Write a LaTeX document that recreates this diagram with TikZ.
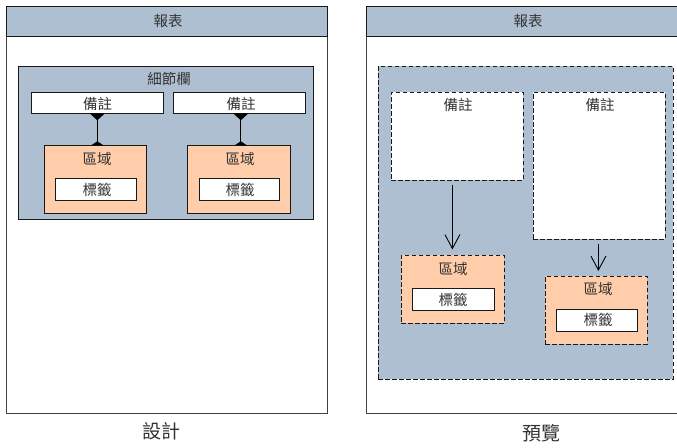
\documentclass[tikz,border=0pt]{standalone}
\usepackage{fontspec}
\setmainfont{Noto Sans CJK TC}
\usetikzlibrary{arrows.meta}
\definecolor{bandblue}{HTML}{AEBFD1}
\definecolor{areaorange}{HTML}{FFCDAA}
\definecolor{inkgrey}{HTML}{333333}
\tikzset{
  x=1pt,y=-1pt,
  box/.style={draw=black!90,line width=1.05pt,inner sep=0pt,outer sep=0pt,font=\fontsize{14.5}{16}\selectfont,text=inkgrey},
  words/.style={box,draw=none},
  frame/.style={box,draw=black!75,line width=1.3pt,fill=white,anchor=north west},
  band/.style={box,fill=bandblue,anchor=north west},
  whitebox/.style={box,fill=white,anchor=north west},
  areabox/.style={box,fill=areaorange,anchor=north west},
  dash line/.style={dash pattern=on 4.5pt off 2.5pt},
  link/.style={line width=1.2pt,{Triangle[reversed,width=15pt,length=7pt]}-{Triangle[reversed,width=12pt,length=4pt]}},
  flow/.style={line width=1pt,-{Straight Barb[length=14pt,width=15pt,line width=.9pt]}},
  caption/.style={font=\fontsize{19}{21}\selectfont,text=inkgrey,inner sep=0pt}
}
\newcommand{\pbox}[6]{% name, style, x1,y1,x2,y2
  \node[#2,minimum width=#5pt-#3pt,minimum height=#6pt-#4pt] (#1) at (#3+.3,#4+.3) {};}
\begin{document}
\begin{tikzpicture}
\useasboundingbox (0,0) rectangle (677,447);
\fill[white] (0,0) rectangle (677,447);
% ---- design
\pbox{repL}{frame}{6}{6}{327}{413}
\pbox{headL}{band}{6}{6}{327}{36}
\node[words] at (168,21) {報表};
\pbox{detail}{band}{18}{66}{313}{219}
\node[words] at (169,79) {細節欄};
\pbox{noteA}{whitebox}{31}{92}{163}{113}
\node[words] at (97.5,104) {備註};
\pbox{noteB}{whitebox}{173}{92}{305}{113}
\node[words] at (241,104) {備註};
\pbox{areaA}{areabox}{44}{145}{146}{213}
\node[words] at (97,159) {區域};
\pbox{labA}{whitebox}{55}{178}{136}{200}
\node[words] at (97,190) {標籤};
\pbox{areaB}{areabox}{187}{145}{290}{213}
\node[words] at (240,159) {區域};
\pbox{labB}{whitebox}{199}{178}{279}{200}
\node[words] at (240,190) {標籤};
\draw[link] (noteA.south) -- (noteA.south |- areaA.north);
\draw[link] ([xshift=1.5pt]noteB.south) -- ([xshift=1.5pt]noteB.south |- areaB.north);
% ---- preview
\pbox{repR}{frame}{366}{6}{677}{413}
\pbox{headR}{band}{366}{6}{677}{36}
\node[words] at (528,21) {報表};
\pbox{detailR}{band,dash line}{378}{66}{673}{379}
\pbox{noteC}{whitebox,dash line}{391}{92}{523}{180}
\node[words] at (458,105) {備註};
\pbox{noteD}{whitebox,dash line}{533}{92}{665}{239}
\node[words] at (600,105) {備註};
\pbox{areaC}{areabox,dash line}{401}{255}{504}{323}
\node[words] at (453,269) {區域};
\pbox{labC}{whitebox}{412}{288}{494}{310}
\node[words] at (453,300) {標籤};
\pbox{areaD}{areabox,dash line}{545}{276}{647}{344}
\node[words] at (598,289) {區域};
\pbox{labD}{whitebox}{556}{309}{637}{331}
\node[words] at (598,320) {標籤};
\coordinate (startC) at (452.4,185);
\coordinate (endC) at (452.4,249.5);
\coordinate (startD) at (598.4,244);
\coordinate (endD) at (598.4,271);
\draw[flow] (startC) -- (endC);
\draw[flow] (startD) -- (endD);
% ---- captions
\node[caption] (capL) at (161.5,431) {設計};
\node[caption] (capR) at (541,433) {預覽};
\end{tikzpicture}
\end{document}
